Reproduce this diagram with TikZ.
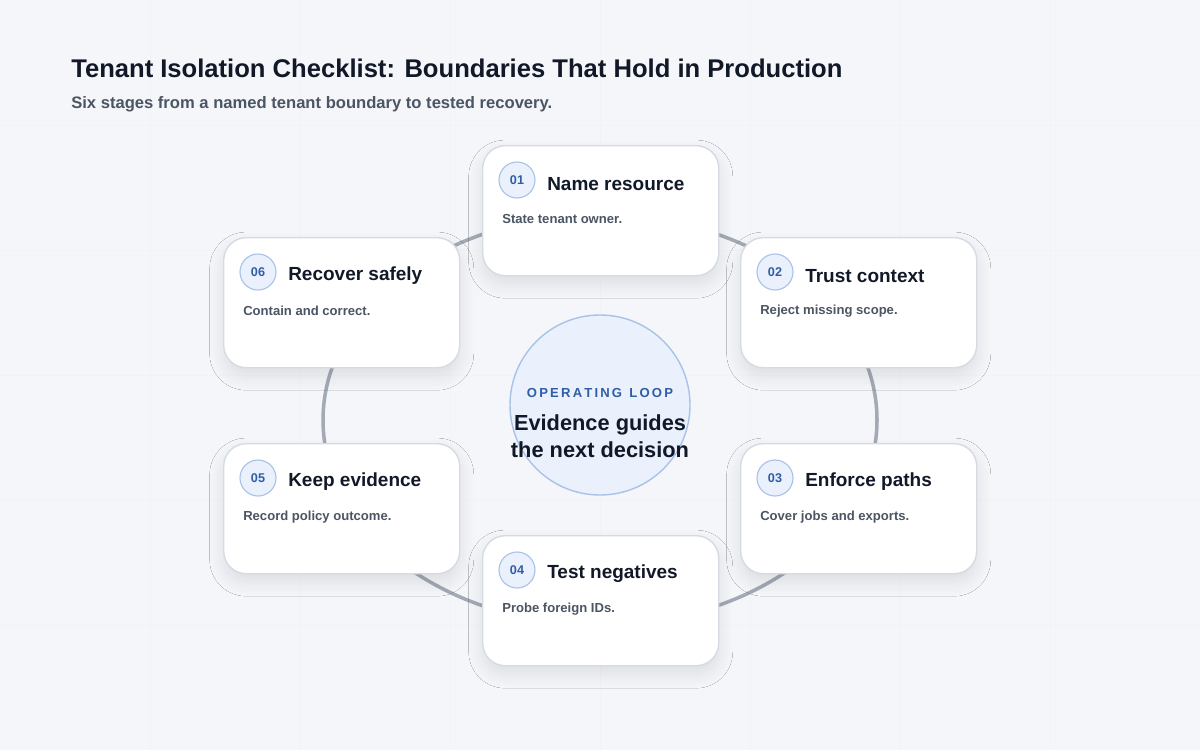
\documentclass[tikz,border=0pt]{standalone}
\usepackage{fontspec}
\setmainfont{Liberation Sans}
\usetikzlibrary{shadows.blur}
\definecolor{ink}{HTML}{111827}
\definecolor{muted}{HTML}{4B5563}
\definecolor{accent}{HTML}{2F5DA8}
\definecolor{ring}{HTML}{A3A9B5}
\definecolor{edge}{HTML}{D6DBE3}
\definecolor{bg}{HTML}{F4F6FA}
\definecolor{badge}{HTML}{EAF1FC}
\definecolor{badgeline}{HTML}{A9C2E8}
\begin{document}
\begin{tikzpicture}[x=0.025cm, y=-0.025cm,
  card/.style={draw=edge, line width=1pt, fill=white, rounded corners=16pt,
    minimum width=236*0.025cm, minimum height=130*0.025cm, anchor=north west,
    blur shadow={shadow blur steps=12, shadow blur radius=10pt, shadow xshift=0pt, shadow yshift=-6pt, shadow opacity=10}},
  num/.style={circle, draw=badgeline, fill=badge, line width=0.8pt, minimum size=36*0.025cm,
    inner sep=0pt, font=\fontsize{9}{10}\selectfont\bfseries, text=accent},
  head/.style={anchor=west, inner sep=0pt, font=\fontsize{13.5}{15}\selectfont\bfseries, text=ink},
  note/.style={anchor=west, inner sep=0pt, font=\fontsize{9.3}{11}\selectfont\bfseries, text=muted}]
% Background and faint grid
\fill[bg] (0,0) rectangle (1200,750);
\useasboundingbox (0,0) rectangle (1200,750);
\foreach \x in {150,300,...,1050} \draw[white!60!edge, line width=0.4pt, opacity=0.5] (\x,0) -- (\x,750);
\foreach \y in {125,250,...,625} \draw[white!60!edge, line width=0.4pt, opacity=0.5] (0,\y) -- (1200,\y);

% Title
\node[anchor=west, inner sep=0pt, font=\fontsize{18.2}{21}\selectfont\bfseries, text=ink] (title) at (71,68) {Tenant Isolation Checklist: Boundaries That Hold in Production};
\node[anchor=west, inner sep=0pt, font=\fontsize{11.8}{14}\selectfont\bfseries, text=muted] (subtitle) at (71,104) {Six stages from a named tenant boundary to tested recovery.};

% Loop ring and centre
\draw[ring, line width=2.5pt] (600,420) ellipse [x radius=277, y radius=205];
\node[circle, draw=badgeline, fill=badge, line width=1pt, minimum size=180*0.025cm] (hub) at (600,405) {};
\node[font=\fontsize{9.3}{11}\selectfont\bfseries, text=accent] (loop) at (600,393) {O\,P\,E\,R\,A\,T\,I\,N\,G\ \ L\,O\,O\,P};
\node[align=center, font=\fontsize{15.5}{19}\selectfont\bfseries, text=ink] (claim) at (600,436) {Evidence guides\\the next decision};

% Stage cards
\foreach \n/\x/\y/\t/\s in {01/482/145/Name resource/State tenant owner.,
  02/740/237/Trust context/Reject missing scope.,
  03/740/443/Enforce paths/Cover jobs and exports.,
  04/482/535/Test negatives/Probe foreign IDs.,
  05/223/443/Keep evidence/Record policy outcome.,
  06/223/237/Recover safely/Contain and correct.} {
  \node[card] (card\n) at (\x,\y) {};
  \node[num] (num\n) at (\x+35,\y+35) {\n};
  \node[head] (head\n) at (\x+65,\y+39) {\t};
  \node[note] (note\n) at (\x+20,\y+74) {\s};
}
\end{tikzpicture}
\end{document}
